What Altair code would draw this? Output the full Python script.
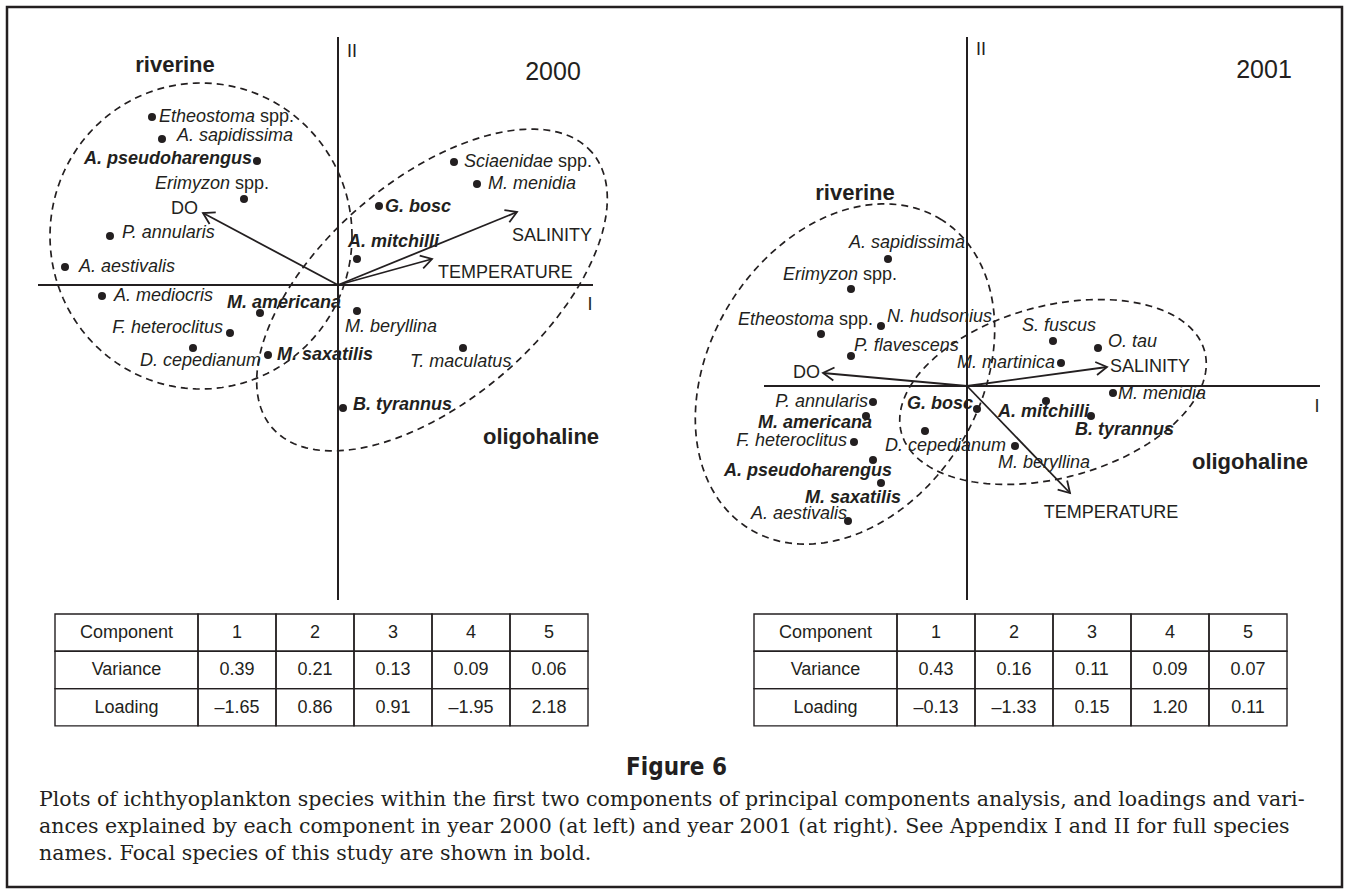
import altair as alt
import numpy as np
import pandas as pd

# ------------------------------------------------------------------
# Principal-component scores of the ichthyoplankton species
# ------------------------------------------------------------------
SPECIES_2000 = ["Etheostoma spp.", "A. sapidissima", "A. pseudoharengus", "Erimyzon spp.",
                "P. annularis", "A. aestivalis", "A. mediocris", "M. americana",
                "F. heteroclitus", "D. cepedianum", "M. saxatilis", "G. bosc",
                "A. mitchilli", "M. beryllina", "T. maculatus", "B. tyrannus",
                "Sciaenidae spp.", "M. menidia"]
PC1_2000 = [-1.86, -1.76, -0.81, -0.94, -2.28, -2.73, -2.36, -0.78, -1.08, -1.45,
            -0.70, 0.41, 0.19, 0.19, 1.25, 0.05, 1.16, 1.39]
PC2_2000 = [1.68, 1.46, 1.24, 0.86, 0.49, 0.18, -0.11, -0.28, -0.48, -0.63,
            -0.70, 0.79, 0.26, -0.26, -0.63, -1.23, 1.23, 1.01]

SPECIES_2001 = ["A. sapidissima", "Erimyzon spp.", "Etheostoma spp.", "N. hudsonius",
                "P. flavescens", "P. annularis", "M. americana", "F. heteroclitus",
                "A. pseudoharengus", "M. saxatilis", "A. aestivalis", "G. bosc",
                "D. cepedianum", "M. beryllina", "A. mitchilli", "B. tyrannus",
                "M. menidia", "S. fuscus", "O. tau", "M. martinica"]
PC1_2001 = [-0.79, -1.16, -1.46, -0.86, -1.16, -0.94, -1.01, -1.13, -0.94, -0.86,
            -1.19, 0.10, -0.42, 0.48, 0.79, 1.24, 1.46, 0.86, 1.31, 0.94]
PC2_2001 = [1.27, 0.97, 0.52, 0.60, 0.30, -0.16, -0.30, -0.56, -0.74, -0.97,
            -1.35, -0.23, -0.45, -0.60, -0.15, -0.30, -0.07, 0.45, 0.38, 0.23]

# focal species are set in bold
FOCAL = ["A. pseudoharengus", "M. americana", "M. saxatilis", "G. bosc",
         "A. mitchilli", "B. tyrannus"]

# environmental vectors
VARIABLES = ["DO", "SALINITY", "TEMPERATURE"]
VAR_PC1_2000 = [-1.35, 1.79, 0.94]
VAR_PC2_2000 = [0.72, 0.73, 0.26]
VAR_PC1_2001 = [-1.44, 1.40, 1.03]
VAR_PC2_2001 = [0.13, 0.19, -1.07]

# component tables
COMPONENTS = ["1", "2", "3", "4", "5"]
VARIANCE_2000 = [0.39, 0.21, 0.13, 0.09, 0.06]
LOADING_2000 = [-1.65, 0.86, 0.91, -1.95, 2.18]
VARIANCE_2001 = [0.43, 0.16, 0.11, 0.09, 0.07]
LOADING_2001 = [-0.13, -1.33, 0.15, 1.20, 0.11]

# assemblage outlines: centre (PC1, PC2), semi-axes, rotation in degrees
ASSEMBLAGES = [
    ("2000", "riverine", -1.37, 0.49, 1.51, 1.53, 0.0),
    ("2000", "oligohaline", 0.94, -0.05, 2.11, 1.10, 40.7),
    ("2001", "riverine", -1.22, 0.12, 1.82, 1.35, 58.0),
    ("2001", "oligohaline", 0.86, -0.06, 1.57, 0.86, 15.0),
]

CAPTION_TITLE = "Figure 6"
CAPTION_LINES = [
    "Plots of ichthyoplankton species within the first two components of principal components analysis, and loadings and vari-",
    "ances explained by each component in year 2000 (at left) and year 2001 (at right). See Appendix I and II for full species",
    "names. Focal species of this study are shown in bold.",
]

# ------------------------------------------------------------------
# Layout
# ------------------------------------------------------------------
FIG_W, FIG_H = 1349, 890
UNIT = 100.0                                  # pixels per component unit
ORIGINS = {"2000": (338.0, 285.0), "2001": (967.0, 386.0)}
INK = "#231f20"
SANS = "Liberation Sans, Arial, Helvetica, sans-serif"
SERIF = "DejaVu Serif, serif"
CONDENSED = "Liberation Sans Narrow, DejaVu Sans Condensed, Liberation Sans, sans-serif"

# label offsets (pixels from the point); "split" puts the genus before and "spp." after dx
LABELS = {
    "2000": {
        "Etheostoma spp.": (103, 0, "split"), "A. sapidissima": (15, -3, "left"),
        "A. pseudoharengus": (-5, -2, "right"), "Erimyzon spp.": (-14, -15, "split"),
        "P. annularis": (12, -3, "left"), "A. aestivalis": (14, 0, "left"),
        "A. mediocris": (12, 0, "left"), "M. americana": (-33, -10, "left"),
        "F. heteroclitus": (-7, -5, "right"), "D. cepedianum": (-53, 13, "left"),
        "M. saxatilis": (9, 0, "left"), "G. bosc": (6, 1, "left"),
        "A. mitchilli": (-9, -17, "left"), "M. beryllina": (-12, 16, "left"),
        "T. maculatus": (-53, 14, "left"), "B. tyrannus": (10, -3, "left"),
        "Sciaenidae spp.": (99, 0, "split"), "M. menidia": (11, 0, "left"),
    },
    "2001": {
        "A. sapidissima": (-39, -16, "left"), "Erimyzon spp.": (7, -14, "split"),
        "Etheostoma spp.": (13, -14, "split"), "N. hudsonius": (6, -9, "left"),
        "P. flavescens": (3, -10, "left"), "P. annularis": (-5, 0, "right"),
        "M. americana": (6, 7, "right"), "F. heteroclitus": (-7, -1, "right"),
        "A. pseudoharengus": (19, 11, "right"), "M. saxatilis": (20, 15, "right"),
        "A. aestivalis": (-1, -7, "right"), "G. bosc": (-4, -5, "right"),
        "D. cepedianum": (-40, 15, "left"), "M. beryllina": (-17, 17, "left"),
        "A. mitchilli": (-48, 11, "left"), "B. tyrannus": (-16, 14, "left"),
        "M. menidia": (5, 1, "left"), "S. fuscus": (-31, -15, "left"),
        "O. tau": (10, -6, "left"), "M. martinica": (-6, 0, "right"),
    },
}
VAR_LABELS = {
    "2000": {"DO": (-5, -4, "right"), "SALINITY": (35, 24, "center"),
             "TEMPERATURE": (6, 14, "left")},
    "2001": {"DO": (-3, 0, "right"), "SALINITY": (3, 0, "left"),
             "TEMPERATURE": (41, 20, "center")},
}
# panel annotations in component units: text, PC1, PC2, size, weight, align
ANNOTATIONS = {
    "2000": [("2000", 2.15, 2.13, 25, "normal", "center"),
             ("riverine", -1.63, 2.20, 22, "bold", "center"),
             ("oligohaline", 2.03, -1.52, 22, "bold", "center"),
             ("II", 0.09, 2.33, 18, "normal", "left"),
             ("I", 2.52, -0.20, 18, "normal", "center")],
    "2001": [("2001", 2.97, 3.16, 25, "normal", "center"),
             ("riverine", -1.12, 1.93, 22, "bold", "center"),
             ("oligohaline", 2.83, -0.76, 22, "bold", "center"),
             ("II", 0.09, 3.36, 18, "normal", "left"),
             ("I", 3.50, -0.21, 18, "normal", "center")],
}
# axis extents in component units
AXES = {"2000": ((-3.00, 2.55), (2.48, -3.15)),
        "2001": ((-2.03, 3.53), (3.49, -2.14))}

TABLE_LEFT = {"2000": 55.0, "2001": 754.0}
TABLE_TOP, FIRST_COL, COL_W, ROW_H = 614.0, 143.0, 78.0, 37.3


def to_fig(panel, pc1, pc2):
    ox, oy = ORIGINS[panel]
    return ox + pc1 * UNIT, oy - pc2 * UNIT


XS = alt.Scale(domain=[0, FIG_W], nice=False, zero=False)
YS = alt.Scale(domain=[0, FIG_H], nice=False, zero=False, reverse=True)


def xy(xf="x", yf="y"):
    return dict(x=alt.X(f"{xf}:Q", scale=XS, axis=None),
                y=alt.Y(f"{yf}:Q", scale=YS, axis=None))


layers = []

# ---- frame around the whole figure
layers.append(
    alt.Chart(pd.DataFrame({"k": [0]})).mark_rect(
        fillOpacity=0, stroke=INK, strokeWidth=2.5
    ).encode(x=alt.value(7), x2=alt.value(1342), y=alt.value(7), y2=alt.value(887))
)

# ---- assemblage outlines (dashed)
rows = []
t = np.linspace(0, 2 * np.pi, 181)
for panel, name, cx, cy, a, b, rot in ASSEMBLAGES:
    r = np.deg2rad(rot)
    px = cx + a * np.cos(t) * np.cos(r) - b * np.sin(t) * np.sin(r)
    py = cy + a * np.cos(t) * np.sin(r) + b * np.sin(t) * np.cos(r)
    for k, (u, v) in enumerate(zip(px, py)):
        fx, fy = to_fig(panel, u, v)
        rows.append({"group": f"{panel}-{name}", "k": k, "x": fx, "y": fy})
outline_df = pd.DataFrame(rows)
layers.append(
    alt.Chart(outline_df).mark_line(
        color=INK, strokeWidth=1.7, strokeDash=[7, 5]
    ).encode(**xy(), detail="group:N", order="k:Q")
)

# ---- component axes
rows = []
for panel, ((h0, h1), (v0, v1)) in AXES.items():
    x0, y0 = to_fig(panel, h0, 0)
    x1, y1 = to_fig(panel, h1, 0)
    rows.append({"x": x0, "y": y0, "x2": x1, "y2": y1})
    x0, y0 = to_fig(panel, 0, v0)
    x1, y1 = to_fig(panel, 0, v1)
    rows.append({"x": x0, "y": y0, "x2": x1, "y2": y1})
layers.append(
    alt.Chart(pd.DataFrame(rows)).mark_rule(color=INK, strokeWidth=2).encode(
        **xy(), x2="x2:Q", y2="y2:Q")
)

# ---- environmental vectors
rows = []
for panel, p1s, p2s in (("2000", VAR_PC1_2000, VAR_PC2_2000),
                        ("2001", VAR_PC1_2001, VAR_PC2_2001)):
    ox, oy = to_fig(panel, 0, 0)
    for var, p1, p2 in zip(VARIABLES, p1s, p2s):
        fx, fy = to_fig(panel, p1, p2)
        ang = (np.degrees(np.arctan2(fy - oy, fx - ox)) + 360) % 360
        dx, dy, align = VAR_LABELS[panel][var]
        rows.append({"panel": panel, "var": var, "x": ox, "y": oy, "x2": fx, "y2": fy,
                     "ang": ang, "lx": fx + dx, "ly": fy + dy, "align": align})
vec_df = pd.DataFrame(rows)
layers.append(
    alt.Chart(vec_df).mark_rule(color=INK, strokeWidth=1.8).encode(
        **xy(), x2="x2:Q", y2="y2:Q")
)
layers.append(
    alt.Chart(vec_df).mark_point(
        shape="M -1 -0.6 L 0 0 L -1 0.6", filled=False, size=480,
        color=INK, strokeWidth=1.8, opacity=1
    ).encode(**xy("x2", "y2"), angle=alt.Angle("ang:Q", scale=None))
)
for align in ("left", "right", "center"):
    sub = vec_df[vec_df["align"] == align]
    if len(sub):
        layers.append(
            alt.Chart(sub).mark_text(
                align=align, baseline="middle", font=SANS, fontSize=18, color=INK
            ).encode(**xy("lx", "ly"), text="var:N")
        )

# ---- species points and labels
pts, labs = [], []
for panel, names, p1s, p2s in (("2000", SPECIES_2000, PC1_2000, PC2_2000),
                               ("2001", SPECIES_2001, PC1_2001, PC2_2001)):
    for name, p1, p2 in zip(names, p1s, p2s):
        fx, fy = to_fig(panel, p1, p2)
        pts.append({"panel": panel, "species": name, "x": fx, "y": fy})
        dx, dy, align = LABELS[panel][name]
        weight = "bold" if name in FOCAL else "normal"
        if align == "split":
            genus = name.replace(" spp.", "")
            labs.append({"text": genus, "x": fx + dx, "y": fy + dy, "align": "right",
                         "style": "italic", "weight": weight})
            labs.append({"text": "spp.", "x": fx + dx + 5, "y": fy + dy, "align": "left",
                         "style": "normal", "weight": weight})
        else:
            labs.append({"text": name, "x": fx + dx, "y": fy + dy, "align": align,
                         "style": "italic", "weight": weight})
pts_df = pd.DataFrame(pts)
lab_df = pd.DataFrame(labs)
layers.append(
    alt.Chart(pts_df).mark_circle(size=65, color=INK, opacity=1).encode(
        **xy(), tooltip=["species:N"])
)
for (align, style, weight), sub in lab_df.groupby(["align", "style", "weight"]):
    layers.append(
        alt.Chart(sub).mark_text(
            align=align, baseline="middle", font=SANS, fontSize=18,
            fontStyle=style, fontWeight=weight, color=INK
        ).encode(**xy(), text="text:N")
    )

# ---- panel annotations
rows = []
for panel, items in ANNOTATIONS.items():
    for text, p1, p2, size, weight, align in items:
        fx, fy = to_fig(panel, p1, p2)
        rows.append({"text": text, "x": fx, "y": fy, "size": size,
                     "weight": weight, "align": align})
ann_df = pd.DataFrame(rows)
for (size, weight, align), sub in ann_df.groupby(["size", "weight", "align"]):
    layers.append(
        alt.Chart(sub).mark_text(
            align=align, baseline="middle", font=SANS, fontSize=int(size),
            fontWeight=weight, color=INK
        ).encode(**xy(), text="text:N")
    )

# ---- component tables
cells, cell_txt = [], []
fmt = lambda v: f"{v:.2f}".replace("-", "\u2013")
for panel, var, load in (("2000", VARIANCE_2000, LOADING_2000),
                         ("2001", VARIANCE_2001, LOADING_2001)):
    table = [["Component"] + COMPONENTS,
             ["Variance"] + [fmt(v) for v in var],
             ["Loading"] + [fmt(v) for v in load]]
    left = TABLE_LEFT[panel]
    for r, row in enumerate(table):
        y0 = TABLE_TOP + r * ROW_H
        for c, txt in enumerate(row):
            x0 = left if c == 0 else left + FIRST_COL + (c - 1) * COL_W
            x1 = left + FIRST_COL if c == 0 else x0 + COL_W
            cells.append({"x": x0, "x2": x1, "y": y0, "y2": y0 + ROW_H})
            cell_txt.append({"x": (x0 + x1) / 2, "y": y0 + ROW_H / 2 + 0.5, "text": txt})
layers.append(
    alt.Chart(pd.DataFrame(cells)).mark_rect(
        fillOpacity=0, stroke=INK, strokeWidth=1.4
    ).encode(**xy(), x2="x2:Q", y2="y2:Q")
)
layers.append(
    alt.Chart(pd.DataFrame(cell_txt)).mark_text(
        align="center", baseline="middle", font=SANS, fontSize=18, color=INK
    ).encode(**xy(), text="text:N")
)

# ---- figure caption
layers.append(
    alt.Chart(pd.DataFrame({"x": [FIG_W / 2 + 2], "y": [768], "text": [CAPTION_TITLE]})).mark_text(
        align="center", baseline="middle", font=CONDENSED, fontSize=24,
        fontWeight="bold", color=INK
    ).encode(**xy(), text="text:N")
)
layers.append(
    alt.Chart(pd.DataFrame({"x": [39.0] * 3, "y": [800.0, 827.0, 854.0],
                            "text": CAPTION_LINES})).mark_text(
        align="left", baseline="middle", font=SERIF, fontSize=20.5, color=INK
    ).encode(**xy(), text="text:N")
)

chart = alt.layer(*layers).properties(
    width=FIG_W, height=FIG_H, padding=0,
    autosize=alt.AutoSizeParams(type="none"), background="white"
).configure_view(stroke="transparent")

chart.save("out.html", embed_options={"renderer": "svg", "actions": False})
